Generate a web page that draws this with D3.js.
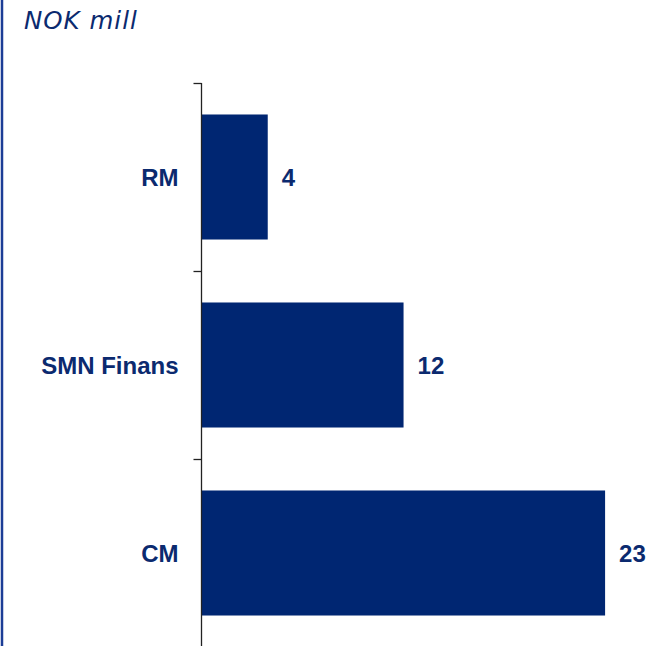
<!DOCTYPE html>
<html>
<head>
<meta charset="utf-8">
<script src="https://cdn.jsdelivr.net/npm/d3@7"></script>
<style>
  html, body { margin: 0; padding: 0; background: #fff; }
  svg { display: block; }
</style>
</head>
<body>
<svg id="chart" width="663" height="646"></svg>
<script>
const categories = ["RM", "SMN Finans", "CM"];
const values = [3.8, 11.65, 23.3];
const unitLabel = "NOK mill";

const W = 663, H = 646;
const navy = "#002672";
const textNavy = "#0b2a6f";

const svg = d3.select("#chart");

// left frame line
svg.append("line")
  .attr("x1", 2).attr("x2", 2).attr("y1", 0).attr("y2", H)
  .attr("stroke", "#1c3d96").attr("stroke-width", 2.5);

// title
svg.append("text")
  .attr("x", 24).attr("y", 28.5)
  .attr("font-family", "DejaVu Sans, Verdana, sans-serif")
  .attr("font-style", "italic")
  .attr("font-size", 24.5)
  .attr("letter-spacing", 1)
  .attr("fill", textNavy)
  .text(unitLabel);

const x = d3.scaleLinear().domain([0, 25]).range([202, 202 + 25 * 17.3]);
const y = d3.scaleBand().domain(categories).range([83, 647])
  .paddingInner(0.335).paddingOuter(0.1675);

// bars
svg.selectAll("rect.bar").data(values).enter().append("rect")
  .attr("class", "bar")
  .attr("x", x(0))
  .attr("y", (d, i) => y(categories[i]))
  .attr("width", d => x(d) - x(0))
  .attr("height", y.bandwidth())
  .attr("fill", navy);

// axis
const axis = d3.axisLeft(y).tickSize(0).tickFormat("");
const g = svg.append("g").attr("transform", `translate(${x(0) - 0.5},0)`);
g.call(axis);
g.select(".domain").attr("stroke", "#222").attr("stroke-width", 1.3);
// boundary ticks between categories
const step = y.step();
const bounds = d3.range(categories.length + 1).map(i => 83 + i * step);
g.selectAll("line.btick").data(bounds).enter().append("line")
  .attr("class", "btick")
  .attr("x1", -8).attr("x2", 0)
  .attr("y1", d => Math.round(d) + 0.5).attr("y2", d => Math.round(d) + 0.5)
  .attr("stroke", "#222").attr("stroke-width", 1.3);
g.select(".domain").attr("d", `M0,83V${H}`);

// category labels
svg.selectAll("text.cat").data(categories).enter().append("text")
  .attr("class", "cat")
  .attr("x", 178.5)
  .attr("y", d => y(d) + y.bandwidth() / 2 + 8.6)
  .attr("text-anchor", "end")
  .attr("font-family", "Liberation Sans, Arial, sans-serif")
  .attr("font-weight", "bold")
  .attr("font-size", 24)
  .attr("fill", textNavy)
  .text(d => d);

// value labels
const fmt = d3.format(".0f");
svg.selectAll("text.val").data(values).enter().append("text")
  .attr("class", "val")
  .attr("x", d => x(d) + 14)
  .attr("y", (d, i) => y(categories[i]) + y.bandwidth() / 2 + 8.6)
  .attr("font-family", "Liberation Sans, Arial, sans-serif")
  .attr("font-weight", "bold")
  .attr("font-size", 24)
  .attr("fill", textNavy)
  .text(d => fmt(d));
</script>
</body>
</html>
